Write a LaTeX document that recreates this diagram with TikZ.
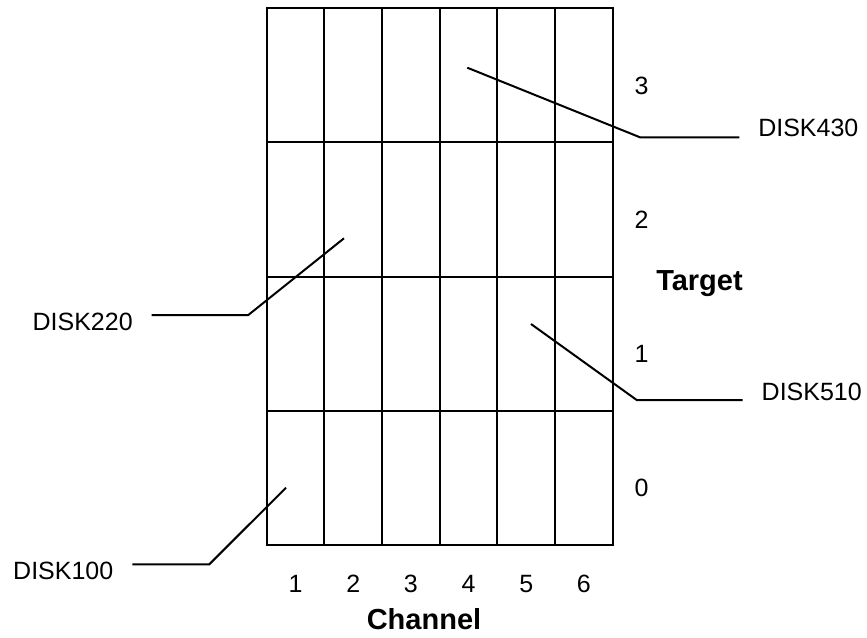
\documentclass[tikz,border=0pt]{standalone}
\usepackage{fontspec}
\setmainfont{Liberation Sans}
\usetikzlibrary{positioning,calc}

\begin{document}
\begin{tikzpicture}[x=1pt, y=-1pt, line width=2pt]
  \tikzstyle{disk} = [font=\fontsize{25}{30}\selectfont, inner xsep=18pt, inner ysep=0pt]
  \tikzstyle{num} = [font=\fontsize{25}{30}\selectfont, anchor=base, inner sep=0pt]
  \tikzstyle{axis} = [font=\fontsize{29}{34}\selectfont\bfseries, anchor=base, inner sep=0pt]
  \tikzstyle{leader} = [line width=2pt]

  \useasboundingbox (0,0) rectangle (867,637);

  % grid: 6 channels x 4 targets
  \coordinate (g0) at (266.7,8);
  \coordinate (g1) at (612.7,545);
  \draw (g0) rectangle (g1);
  \foreach \c in {1,...,5}
    \draw ({266.7+57.67*\c},8) -- ({266.7+57.67*\c},545);
  \foreach \r in {1,2,3}
    \draw (266.7,{8+134.25*\r}) -- (612.7,{8+134.25*\r});

  % numbers
  \foreach \c in {1,...,6}
    \node[num] (ch\c) at ({266.7+57.67*(\c-0.5)},592.7) {\c};
  \foreach \t in {0,...,3}
    \node[num] (tg\t) at (641.5,{545-134.25*(\t+0.5)+19}) {\t};

  \node[axis] (channel) at (424,629) {Channel};
  \node[axis] (target) at (699.5,290) {Target};

  % disk labels
  \node[disk, anchor=west] (d430) at (739.3,127.5) {DISK430};
  \node[disk, anchor=east] (d220) at (151.7,322) {DISK220};
  \node[disk, anchor=west] (d510) at (742.7,392) {DISK510};
  \node[disk, anchor=east] (d100) at (132.3,571) {DISK100};

  \coordinate (p430) at (467.3,67.7);
  \coordinate (k430) at (640,137.3);
  \coordinate (p220) at (344,238.3);
  \coordinate (k220) at (248.3,315);
  \coordinate (p510) at (531,324);
  \coordinate (k510) at (636.7,400);
  \coordinate (p100) at (286,487.7);
  \coordinate (k100) at (209.3,564.3);

  \draw[leader] (p430) -- (k430) -- (k430 -| d430.west);
  \draw[leader] (p220) -- (k220) -- (k220 -| d220.east);
  \draw[leader] (p510) -- (k510) -- (k510 -| d510.west);
  \draw[leader] (p100) -- (k100) -- (k100 -| d100.east);
\end{tikzpicture}
\end{document}
